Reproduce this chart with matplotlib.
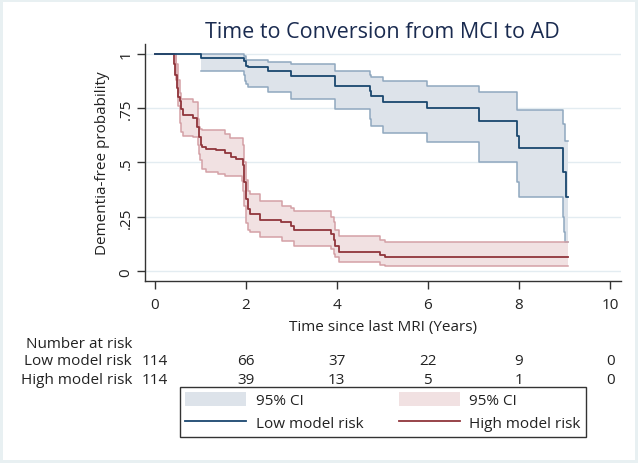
import matplotlib
matplotlib.use('Agg')
import matplotlib.pyplot as plt
import matplotlib.transforms as mtransforms
from matplotlib.patches import Patch, Rectangle
from matplotlib.lines import Line2D

plt.rcParams['font.family'] = ['Open Sans', 'DejaVu Sans']

# Kaplan-Meier curves (step, post)
low_t = [0, 1.03, 1.96, 2.01, 2.05, 2.49, 3.0, 3.97, 4.73, 4.76, 5.02, 5.99, 7.12, 7.96, 8.0, 8.97, 9.04, 9.07]
low_s = [1, 0.980, 0.967, 0.944, 0.937, 0.919, 0.898, 0.853, 0.830, 0.804, 0.779, 0.749, 0.692, 0.623, 0.566, 0.455, 0.340, 0.340]

low_ci_t = [1.03, 1.96, 1.98, 2.01, 2.05, 2.49, 3.0, 3.97, 4.73, 4.76, 5.02, 5.99, 7.12, 7.96, 8.0, 8.97, 8.99, 9.01, 9.07]
low_hi = [0.997, 0.987, 0.987, 0.972, 0.972, 0.960, 0.952, 0.921, 0.902, 0.891, 0.873, 0.853, 0.822, 0.741, 0.741, 0.677, 0.677, 0.600, 0.600]
low_lo = [0.921, 0.902, 0.876, 0.860, 0.848, 0.825, 0.791, 0.745, 0.700, 0.666, 0.634, 0.593, 0.500, 0.409, 0.340, 0.250, 0.180, 0.136, 0.136]

high_t = [0, 0.42, 0.46, 0.49, 0.51, 0.55, 0.58, 0.62, 0.84, 0.94, 0.98, 1.01, 1.05, 1.14, 1.36, 1.54, 1.68, 1.78,
          1.94, 1.97, 2.01, 2.05, 2.09, 2.31, 2.78, 3.0, 3.06, 3.88, 3.93, 3.97, 4.06, 4.95, 5.05, 9.07]
high_s = [1, 0.95, 0.90, 0.84, 0.80, 0.784, 0.746, 0.718, 0.703, 0.661, 0.615, 0.580, 0.570, 0.562, 0.555, 0.542, 0.525, 0.515,
          0.49, 0.409, 0.33, 0.286, 0.263, 0.237, 0.225, 0.21, 0.191, 0.171, 0.145, 0.118, 0.090, 0.075, 0.064, 0.064]

high_ci_t = [0.42, 0.48, 0.52, 0.55, 0.58, 0.62, 0.84, 0.95, 0.98, 1.0, 1.05, 1.14, 1.39, 1.54, 1.65, 1.91, 1.94, 1.97,
             2.01, 2.05, 2.09, 2.31, 2.8, 3.0, 3.06, 3.88, 3.93, 3.97, 4.06, 4.95, 5.05, 9.07]
high_hi = [1.0, 0.95, 0.88, 0.82, 0.791, 0.791, 0.776, 0.70, 0.661, 0.655, 0.65, 0.65, 0.65, 0.631, 0.611, 0.611, 0.58, 0.50,
           0.42, 0.37, 0.355, 0.324, 0.301, 0.290, 0.278, 0.248, 0.225, 0.19, 0.164, 0.145, 0.133, 0.133]
high_lo = [1.0, 0.88, 0.76, 0.68, 0.64, 0.623, 0.615, 0.58, 0.54, 0.51, 0.47, 0.455, 0.447, 0.44, 0.436, 0.413, 0.37, 0.30,
           0.22, 0.19, 0.179, 0.156, 0.141, 0.141, 0.118, 0.102, 0.08, 0.064, 0.041, 0.030, 0.026, 0.026]

# number at risk table
risk_times = [0, 2, 4, 6, 8, 10]
low_risk = [114, 66, 37, 22, 9, 0]
high_risk = [114, 39, 13, 5, 1, 0]

blue = '#1a476f'
red = '#90353b'
blue_fill = '#dde3ea'
blue_edge = '#90a8bf'
red_fill = '#f1e1e2'
red_edge = '#d4a1a6'
txt = '#222222'
fs = 11

fig = plt.figure(figsize=(6.38, 4.64), dpi=100)
fig.patch.set_facecolor('#e8f0f2')
fig.patches.append(Rectangle((3 / 638, 3 / 464), 632 / 638, 458 / 464, transform=fig.transFigure,
                             facecolor='white', edgecolor='none', zorder=-10))

ax = fig.add_axes([0.2265, 0.3929, 0.7469, 0.5101])
ax.set_facecolor('white')

# confidence bands
ax.fill_between(low_ci_t, low_lo, low_hi, step='post', facecolor=blue_fill, edgecolor='none', zorder=1)
ax.step(low_ci_t, low_hi, where='post', color=blue_edge, lw=1.1, zorder=2)
ax.step(low_ci_t, low_lo, where='post', color=blue_edge, lw=1.1, zorder=2)
ax.fill_between(high_ci_t, high_lo, high_hi, step='post', facecolor=red_fill, edgecolor='none', zorder=1)
ax.step(high_ci_t, high_hi, where='post', color=red_edge, lw=1.1, zorder=2)
ax.step(high_ci_t, high_lo, where='post', color=red_edge, lw=1.1, zorder=2)

# survival curves
ax.step(high_t, high_s, where='post', color=red, lw=1.3, zorder=3)
ax.step(low_t, low_s, where='post', color=blue, lw=1.3, zorder=4)

ax.set_xlim(-0.22, 10.24)
ax.set_ylim(-0.043, 1.044)
ax.set_xticks(risk_times)
ax.set_yticks([0, 0.25, 0.5, 0.75, 1])
ax.set_yticklabels(['0', '.25', '.5', '.75', '1'], rotation=90, va='center')
ax.tick_params(axis='both', direction='out', length=6, width=1, colors='#333333',
               labelsize=fs, labelcolor=txt)
ax.tick_params(axis='x', pad=6)
ax.tick_params(axis='y', pad=2)
ax.grid(axis='y', color='#e3ecf1', lw=1)
ax.set_axisbelow(True)
for side in ['top', 'right']:
    ax.spines[side].set_visible(False)
for side in ['left', 'bottom']:
    ax.spines[side].set_color('#333333')
    ax.spines[side].set_linewidth(1)

ax.set_title('Time to Conversion from MCI to AD', fontsize=15.5, color='#1a2b50', pad=5)
ax.set_xlabel('Time since last MRI (Years)', fontsize=fs, color=txt, labelpad=5)
ax.set_ylabel('Dementia-free probability', fontsize=fs, color=txt, labelpad=6)

# number at risk
trans = mtransforms.blended_transform_factory(ax.transData, fig.transFigure)
lab_x = 132 / 638
fig.text(lab_x, 1 - 344 / 464, 'Number at risk', ha='right', va='center', fontsize=fs, color=txt)
fig.text(lab_x, 1 - 362 / 464, 'Low model risk', ha='right', va='center', fontsize=fs, color=txt)
fig.text(lab_x, 1 - 380 / 464, 'High model risk', ha='right', va='center', fontsize=fs, color=txt)
for t, n1, n2 in zip(risk_times, low_risk, high_risk):
    ax.text(t, 1 - 362 / 464, str(n1), transform=trans, ha='center', va='center', fontsize=fs, color=txt)
    ax.text(t, 1 - 380 / 464, str(n2), transform=trans, ha='center', va='center', fontsize=fs, color=txt)

handles = [Patch(facecolor=blue_fill, edgecolor='none'),
           Line2D([], [], color=blue, lw=1.3),
           Patch(facecolor=red_fill, edgecolor='none'),
           Line2D([], [], color=red, lw=1.3)]
labels = ['95% CI', 'Low model risk', '95% CI', 'High model risk']
leg = fig.legend(handles, labels, ncol=2, loc='upper left', mode='expand',
                 bbox_to_anchor=(180 / 638, 24 / 464, 406 / 638, 52 / 464), borderaxespad=0,
                 fontsize=fs, handlelength=4.0, handleheight=1.0, handletextpad=0.6,
                 borderpad=0.35, labelspacing=0.45, fancybox=False, framealpha=1)
leg.get_frame().set_edgecolor('#333333')
leg.get_frame().set_linewidth(1)
for t in leg.get_texts():
    t.set_color(txt)

fig.savefig('out.png', dpi=100, facecolor=fig.get_facecolor())
